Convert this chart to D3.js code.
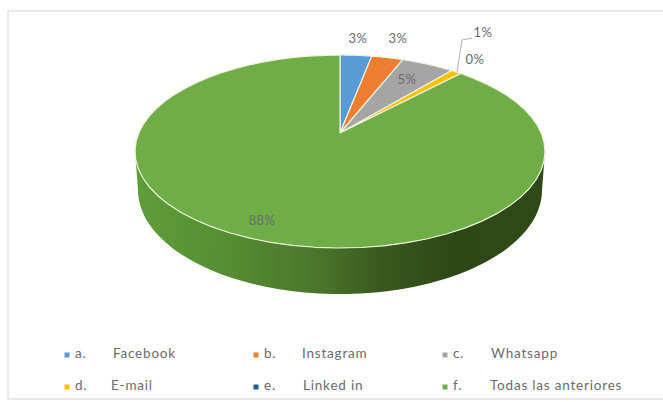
<!DOCTYPE html>
<html><head><meta charset="utf-8">
<script src="https://cdn.jsdelivr.net/npm/d3@7/dist/d3.min.js"></script>
<style>html,body{margin:0;background:#fff}svg{display:block}text{font-family:Lato,"Open Sans",sans-serif;fill:#6b6b6b}</style>
</head><body>
<svg id="chart" width="663" height="402"></svg>
<script>
const categories = ["a.", "b.", "c.", "d.", "e.", "f."];
const names = ["Facebook", "Instagram", "Whatsapp", "E-mail", "Linked in", "Todas las anteriores"];
const shares = [3, 3, 5, 1, 0, 88];
const colours = ["#5b9bd5", "#ed7d31", "#a5a5a5", "#ffc000", "#255e91", "#6fad47"];
const shareLabelAnchors = [[358, 40], [398, 40], [407, 81], [483, 34], [475, 61], [262, 222]];

const svg = d3.select("#chart");
const defs = svg.append("defs");
svg.append("rect").attr("x", 8).attr("y", 11).attr("width", 660).attr("height", 388)
  .attr("fill", "#fff").attr("stroke", "#e2e2e2").attr("stroke-width", 1.5);

// Perspective view of the disc: the pivot sits above the centre of the visible ellipse.
const pivot = {x: 340, y: 133};
const tilt = 0.1917, radiusX = 201.2, radiusY = 92.95;
const project = a => {
  const w = 1 + tilt * Math.cos(a);
  return [pivot.x + radiusX * Math.sin(a) / w, pivot.y - radiusY * Math.cos(a) / w];
};
const arcPoints = (a0, a1) => d3.range(0, 61).map(i => project(a0 + (a1 - a0) * i / 60));
const line = d3.line();

const arcs = d3.pie().value(d => d).sort(null)(shares);

// Side wall of the disc, shaded from lit left to dark right.
const wallFill = defs.append("linearGradient").attr("id", "wall");
[[0, "#5e9e38"], [0.2, "#578f33"], [0.45, "#4a752b"], [0.6, "#38591d"], [0.78, "#2d4816"], [1, "#2f4a17"]]
  .forEach(([o, c]) => wallFill.append("stop").attr("offset", o).attr("stop-color", c));

const floor = {x: 340, y: 190, rx: 202, ry: 104};
const floorEdge = d3.range(0, 91).map(i => {
  const t = Math.PI * i / 90;
  return [floor.x + floor.rx * Math.cos(t), floor.y + floor.ry * Math.sin(t)];
});
const topEdge = d3.range(0, 91).map(i => {
  const t = Math.PI * i / 90;
  return [340 - 205 * Math.cos(t), 151.5 + 96.5 * Math.sin(t)];
});
svg.append("path")
  .attr("d", line(topEdge.concat(floorEdge)) + "Z")
  .attr("fill", "url(#wall)");

// Top face, one wedge per category.
svg.append("g").selectAll("path").data(arcs).join("path")
  .attr("d", d => line([[pivot.x, pivot.y], ...arcPoints(d.startAngle, d.endAngle)]) + "Z")
  .attr("fill", (d, i) => colours[i])
  .attr("stroke", "#eef3dc").attr("stroke-width", 1.2).attr("stroke-linejoin", "round");

// Leader from the small wedge out to its label.
svg.append("path").attr("d", line([[457, 72], [462, 40], [472, 38]]))
  .attr("fill", "none").attr("stroke", "#b0b0b0").attr("stroke-width", 1);

svg.append("g").attr("font-size", 13).attr("letter-spacing", 0.4)
  .selectAll("text").data(shares).join("text")
  .attr("x", (d, i) => shareLabelAnchors[i][0]).attr("y", (d, i) => shareLabelAnchors[i][1])
  .attr("text-anchor", "middle").attr("dominant-baseline", "middle")
  .text(d => d + "%");

// Legend in two rows of three.
const colX = d3.scaleOrdinal().domain([0, 1, 2]).range([67, 256, 445]);
const rowY = d3.scaleOrdinal().domain([0, 1]).range([355, 387]);
const nameOffset = [46, 46, 46, 44, 47, 45];
const legend = svg.append("g").attr("font-size", 13.5).attr("letter-spacing", 0.8)
  .selectAll("g").data(categories).join("g")
  .attr("transform", (d, i) => `translate(${colX(i % 3)},${rowY(Math.floor(i / 3))})`);
legend.append("rect").attr("x", -2.5).attr("y", -2.5).attr("width", 5).attr("height", 5)
  .attr("fill", (d, i) => colours[i]);
legend.append("text").attr("x", 8).attr("dominant-baseline", "middle").text(d => d);
legend.append("text").attr("x", (d, i) => nameOffset[i]).attr("dominant-baseline", "middle")
  .text((d, i) => names[i]);
</script>
</body></html>
